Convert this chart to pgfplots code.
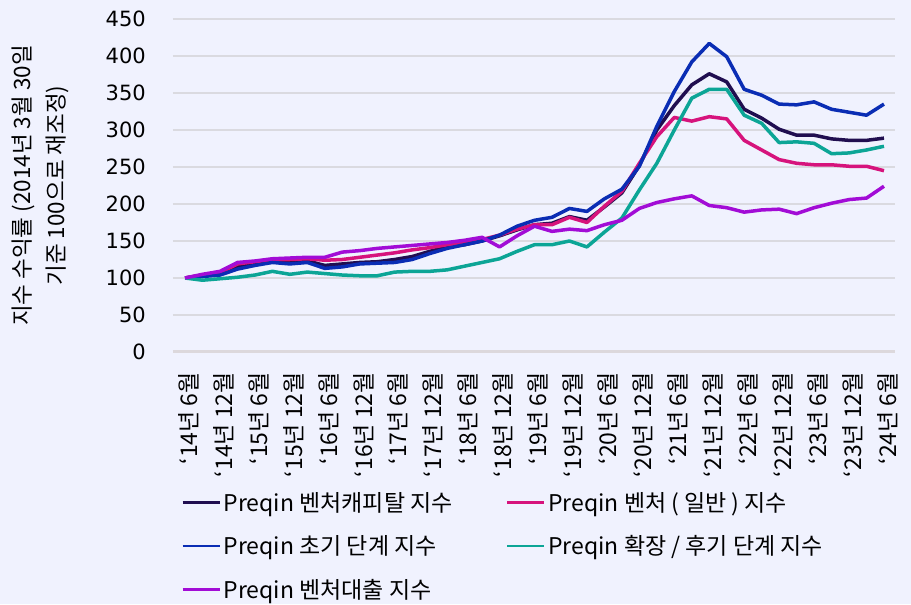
\documentclass[border=0pt]{standalone}
\usepackage{fontspec}
\setmainfont{Noto Sans CJK KR}
\newfontfamily\numfont{DejaVu Sans}
\usepackage{pgfplots}
\usepackage{pgfplotstable}
\pgfplotsset{compat=1.18}
\definecolor{bg}{RGB}{240,242,254}
\definecolor{cVC}{RGB}{32,14,80}
\definecolor{cGen}{RGB}{214,19,124}
\definecolor{cEarly}{RGB}{10,45,180}
\definecolor{cLate}{RGB}{12,165,150}
\definecolor{cDebt}{RGB}{162,12,214}
\definecolor{gridc}{RGB}{218,218,224}
\definecolor{basec}{RGB}{220,216,220}
\pgfplotstableread{
i vc gen early late debt
0 100 100 100 100 100
1 104 104 102 97 105
2 107 107 104 99 109
3 115 119 112 101 121
4 119 122 117 104 123
5 124 125 121 109 126
6 121 125 119 105 127
7 123 126 121 108 128
8 117 124 113 106 128
9 119 125 115 104 135
10 121 128 119 103 137
11 122 131 120 103 140
12 125 134 121 108 142
13 129 138 125 109 144
14 136 141 133 109 146
15 142 145 140 111 148
16 145 148 145 116 151
17 150 152 150 121 155
18 157 158 158 126 142
19 165 166 170 136 157
20 172 172 178 145 170
21 174 172 182 145 163
22 183 182 194 150 166
23 178 175 190 142 164
24 196 197 207 162 172
25 215 217 220 181 178
26 252 255 251 219 194
27 300 291 305 255 202
28 333 317 352 300 207
29 361 312 392 343 211
30 376 318 417 355 198
31 365 315 399 355 195
32 328 286 355 320 189
33 316 273 347 309 192
34 301 260 335 283 193
35 293 255 334 284 187
36 293 253 338 282 195
37 288 253 328 268 201
38 286 251 324 269 206
39 286 251 320 273 208
40 289 245 335 278 224
}\datatable
\begin{document}
\begin{tikzpicture}[x=1pt,y=1pt]
\fill[bg] (-173,-252) rectangle (738,352);
\begin{axis}[
  at={(0,0)}, anchor=south west,
  width=722pt, height=333pt, scale only axis,
  xmin=-0.69, xmax=40.63, ymin=0, ymax=450,
  axis line style={draw=none},
  tick style={draw=none},
  ytick={50,100,...,450},
  extra y ticks={0},
  extra y tick style={grid style={basec, line width=3pt}},
  ymajorgrids, grid style={gridc, line width=1.5pt},
  xtick={0.2,2.2,...,40.2},
  xticklabels={‘14년 6월,‘14년 12월,‘15년 6월,‘15년 12월,‘16년 6월,‘16년 12월,‘17년 6월,‘17년 12월,‘18년 6월,‘18년 12월,‘19년 6월,‘19년 12월,‘20년 6월,‘20년 12월,‘21년 6월,‘21년 12월,‘22년 6월,‘22년 12월,‘23년 6월,‘23년 12월,‘24년 6월},
  xticklabel style={yshift=-20pt, rotate=90, anchor=east, inner sep=0pt, font=\fontsize{23}{26}\selectfont},
  yticklabel style={xshift=-27pt, anchor=east, inner sep=0pt, font=\numfont\fontsize{21}{24}\selectfont, /pgf/number format/assume math mode=true},
  ylabel={지수 수익률 (2014년 3월 30일\\기준 100으로 재조정)},
  ylabel style={at={(axis description cs:-0.184,0.5)}, anchor=center, rotate=0, align=center, font=\fontsize{22.5}{34}\selectfont},
  legend columns=2,
  legend cell align=left,
  legend style={at={(axis description cs:0.007,-0.405)}, anchor=north west, draw=none, fill=none,
    font=\fontsize{23}{26}\selectfont, row sep=17pt,
    nodes={inner sep=3pt},
    /tikz/every even column/.append style={column sep=50pt}},
  legend image code/.code={\draw[#1, line width=2.5pt] (0pt,0pt) -- (37pt,0pt);},
  every axis plot/.append style={line width=3.5pt, line join=round},
]
\addplot[cVC] table[x=i, y=vc] {\datatable};
\addlegendentry{Preqin 벤처캐피탈 지수}
\addplot[cGen] table[x=i, y=gen] {\datatable};
\addlegendentry{Preqin 벤처 ( 일반 ) 지수}
\addplot[cEarly] table[x=i, y=early] {\datatable};
\addlegendentry{Preqin 초기 단계 지수}
\addplot[cLate] table[x=i, y=late] {\datatable};
\addlegendentry{Preqin 확장 / 후기 단계 지수}
\addplot[cDebt] table[x=i, y=debt] {\datatable};
\addlegendentry{Preqin 벤처대출 지수}
\end{axis}
\end{tikzpicture}
\end{document}
